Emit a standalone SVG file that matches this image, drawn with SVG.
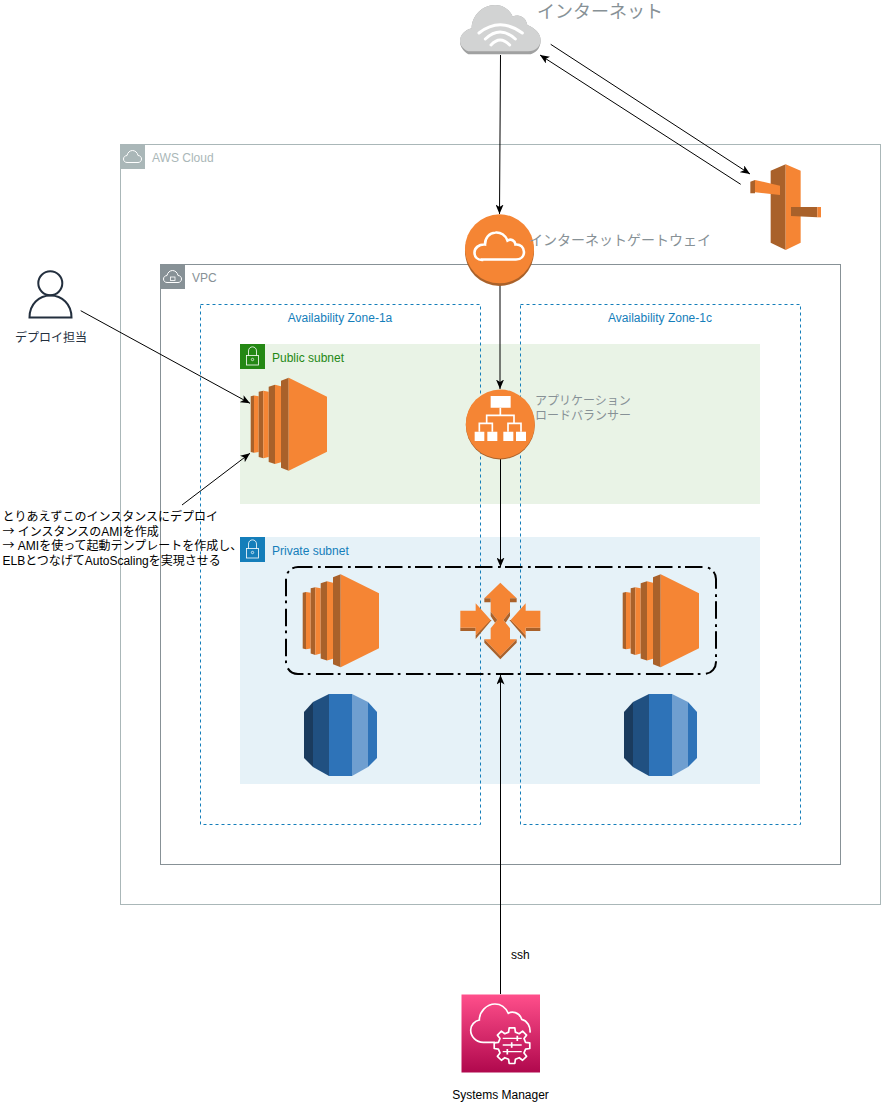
<svg xmlns="http://www.w3.org/2000/svg" xmlns:xlink="http://www.w3.org/1999/xlink" width="881" height="1105" viewBox="0 0 881 1105">
<style>
text{font-family:"Liberation Sans","Noto Sans CJK JP",sans-serif;font-size:12px}
.box{fill:none}
.az{fill:none;stroke:#147EBA;stroke-width:1;stroke-dasharray:3 3}
.conn{fill:none;stroke:#000;stroke-width:1;marker-end:url(#arrow)}
.lt{fill:#F58534}.dk{fill:#A9612A}
.wl{fill:none;stroke:#fff}
.cjk{font-family:"Noto Sans CJK JP",sans-serif}
</style>
<defs>
<marker id="arrow" markerUnits="userSpaceOnUse" viewBox="0 0 10 8" refX="9.5" refY="4" markerWidth="10" markerHeight="8" orient="auto"><path d="M0 0L9.5 4L0 8L2.4 4Z" fill="#000"/></marker>
<linearGradient id="ssmg" x1="0" y1="1" x2="0" y2="0"><stop offset="0" stop-color="#B0084D"/><stop offset="1" stop-color="#FF4F8B"/></linearGradient>
<g id="ec2">
<path class="dk" d="M.7 18.500L4 17.700V75L.7 74.300Z"/><path class="lt" d="M4 17.700L8.700 18.500V74.300L4 75Z"/>
<path class="dk" d="M8.700 14L13.300 13V80.600L8.700 79.300Z"/><path class="lt" d="M13.300 13L18.700 14V79.300L13.300 80.600Z"/>
<path class="dk" d="M18.700 9L25 7V86.300L18.700 84.300Z"/><path class="lt" d="M25 7L31 8.500V84.500L25 86.300Z"/>
<path class="dk" d="M31 3L38.700 0V93L31 90Z"/><path class="lt" d="M38.700 0L77 19V74L38.700 93Z"/>
</g>
<g id="rds">
<path fill="#1A3B5E" d="M0 18L9 8V73L0 64Z"/>
<path fill="#205081" d="M9 8L25 0V82L9 73Z"/>
<path fill="#2E73B8" d="M25 0H48V82H25Z"/>
<path fill="#6F9FD0" d="M48 0L64 8V73L48 82Z"/>
<path fill="#2E73B8" d="M64 8L73 18V64L64 73Z"/>
</g>
</defs>

<rect width="881" height="1105" fill="#fff"/>

<g id="aws-cloud">
<rect class="box" x="120.500" y="144.500" width="760" height="760" stroke="#AAB7B8"/>
<rect x="120" y="144" width="25" height="25" fill="#AAB7B8"/>
<path class="wl" stroke-width="1" d="M127 162.500h11c2 0 3.500-1.500 3.500-3.500s-1.500-3.500-3.500-3.500c-.5-3-3-5-5.500-5s-5 2-5.500 5c-2 .2-3.500 1.500-3.500 3.500s1.500 3.500 3.500 3.500z"/>
<text x="152" y="162" fill="#AAB7B8">AWS Cloud</text>
</g>
<g id="vpc">
<rect class="box" x="160.500" y="264.500" width="680" height="600" stroke="#879196"/>
<rect x="160" y="264" width="25" height="25" fill="#879196"/>
<path class="wl" stroke-width="1" d="M167 282.500h11c2 0 3.500-1.500 3.500-3.500s-1.500-3.500-3.500-3.500c-.5-3-3-5-5.500-5s-5 2-5.500 5c-2 .2-3.500 1.500-3.500 3.500s1.500 3.500 3.500 3.500z"/>
<rect x="170.500" y="277" width="4.500" height="3.500" fill="none" stroke="#fff" stroke-width=".8"/>
<text x="192" y="282" fill="#879196">VPC</text>
</g>
<g id="public-subnet">
<rect x="240" y="344" width="520" height="160" fill="#E9F3E6"/>
<rect x="240" y="344" width="25" height="25" fill="#248814"/>
<rect class="wl" x="246.500" y="355.500" width="12" height="9.500" stroke-width=".8"/>
<path class="wl" stroke-width=".8" d="M248.500 355.500v-4.500c0-5.500 8-5.500 8 0v4.500"/>
<circle class="wl" cx="252.500" cy="359.500" r="1.200" stroke-width=".7"/>
<text x="272" y="362" fill="#248814">Public subnet</text>
</g>
<g id="private-subnet">
<rect x="240" y="537" width="520" height="247" fill="#E6F2F8"/>
<rect x="240" y="537" width="25" height="25" fill="#147EBA"/>
<rect class="wl" x="246.500" y="548.500" width="12" height="9.500" stroke-width=".8"/>
<path class="wl" stroke-width=".8" d="M248.500 548.500v-4.500c0-5.500 8-5.500 8 0v4.500"/>
<circle class="wl" cx="252.500" cy="552.500" r="1.200" stroke-width=".7"/>
<text x="272" y="555" fill="#147EBA">Private subnet</text>
</g>
<g id="az-1a">
<rect class="az" x="200.500" y="304.500" width="280" height="520"/>
<text x="340" y="322" fill="#147EBA" text-anchor="middle">Availability Zone-1a</text>
</g>
<g id="az-1c">
<rect class="az" x="520.500" y="304.500" width="280" height="520"/>
<text x="660" y="322" fill="#147EBA" text-anchor="middle">Availability Zone-1c</text>
</g>
<g id="autoscaling-group">
<rect x="286" y="567" width="430" height="107" rx="12" ry="12" fill="none" stroke="#000" stroke-width="2" stroke-dasharray="17.500 5.500 2.700 4.300" stroke-dashoffset="-27"/>
</g>

<g id="connectors">
<path class="conn" d="M500.500 55L499.500 214"/>
<path class="conn" d="M550.700 44.300L750 174"/>
<path class="conn" d="M740.700 184.300L540 55"/>
<path class="conn" d="M500 285L500 389"/>
<path class="conn" d="M500.500 459L500.500 567"/>
<path class="conn" d="M500.500 994L500.500 675"/>
<path class="conn" d="M80.700 310.700L250 403.300"/>
<path class="conn" d="M182 505L250 453.300"/>
</g>

<g id="internet">
<g transform="translate(440 0) scale(.33333)">
<path fill="#A0A1A1" d="M85 163C68 152 60 138 60 125C60 105 75 90 95 85C95 50 125 15 165 15C190 15 210 30 218 50C235 40 258 50 262 75C285 85 302 100 302 122C302 145 285 163 265 163Z"/>
<path fill="#D2D3D3" d="M85 154C68 146 60 136 60 122C60 105 75 90 95 85C95 50 125 15 165 15C190 15 210 30 218 50C235 40 258 50 262 75C285 85 302 100 302 120C302 140 285 154 265 154Z"/>
<path class="wl" stroke-width="9" stroke-linecap="round" d="M117 99Q180 50 247 99M136 117Q180 75 226 117M153 135Q180 105 209 135"/>
</g>
<text x="537" y="18" fill="#879196" style="font-size:18px">インターネット</text>
</g>

<g id="nat-instance" transform="translate(735 155) scale(.33333)">
<path class="dk" d="M152 28L107 47V263L152 285Z"/>
<path class="lt" d="M152 28L197 47V263L152 285Z"/>
<path class="dk" d="M46 80L60 75V115L46 115Z"/>
<path class="lt" d="M60 75L135 92V120L60 112Z"/>
<path class="dk" d="M168 156H247V187L168 183Z"/>
<path class="lt" d="M247 156H258V187H247Z"/>
</g>

<g id="internet-gateway">
<circle class="dk" cx="499.500" cy="251.500" r="34.500"/>
<circle class="lt" cx="499.500" cy="248.800" r="34.500"/>
<path class="wl" stroke-width="2.600" d="M482 259.500h34c5.500 0 8-3.800 8-7.500c0-4.500-3.500-8-8.500-7.500c-.5-4-4.500-6-8-4c-2-5.500-7-8.500-12-8c-6.500.5-10.500 5.500-10.500 12c-6-.5-10.500 3.500-10.500 8c0 4.500 3 7.500 7.500 7.500z"/>
<text x="529" y="245" fill="#879196" style="font-size:14px">インターネットゲートウェイ</text>
</g>

<g id="load-balancer">
<circle class="dk" cx="500.300" cy="425" r="34.500"/>
<circle class="lt" cx="500.300" cy="424" r="34.500"/>
<g transform="translate(450 380) scale(.33333)">
<path fill="#fff" d="M122 48H182V83H122ZM74 155H103V183H74ZM112 155H142V183H112ZM160 155H190V183H160ZM198 155H228V183H198Z"/>
<path class="wl" stroke-width="5" d="M151 83V106M110 128V106H192V128M88 155V130H127V155M174 155V130H213V155"/>
</g>
<text fill="#879196"><tspan x="535" y="405">アプリケーション</tspan><tspan x="535" y="420">ロードバランサー</tspan></text>
</g>

<g id="ec2-public"><use xlink:href="#ec2" href="#ec2" x="250" y="377.700"/></g>
<g id="ec2-private-1a"><use xlink:href="#ec2" href="#ec2" x="302" y="574.300"/></g>
<g id="ec2-private-1c"><use xlink:href="#ec2" href="#ec2" x="622" y="574.300"/></g>

<g id="auto-scaling" transform="translate(440 560) scale(.33333)">
<path class="lt" d="M181 68L230 115H210V155L190 180L210 205V238H230L181 288L133 238H152V205L172 180L152 155V115H133Z"/>
<path class="dk" d="M133 115H152V127H133ZM210 115H230V127H210ZM152 155L172 180L165 188L152 168ZM210 155L190 180L197 188L210 168ZM133 238L181 288L230 238V248L181 298L133 248Z"/>
<path class="dk" d="M61 203H107V213H61ZM107 226L150 180L155 180L107 237ZM257 203H301V213H257ZM257 226L213 180L208 180L257 237Z"/>
<path class="lt" d="M61 152H107V130L152 180L107 226V203H61Z"/>
<path class="lt" d="M301 152H257V130L212 180L257 226V203H301Z"/>
</g>

<g id="rds-1a"><use xlink:href="#rds" href="#rds" x="304" y="694"/></g>
<g id="rds-1c"><use xlink:href="#rds" href="#rds" x="624" y="694"/></g>

<g id="deploy-user">
<circle cx="50.300" cy="283.300" r="12" fill="none" stroke="#232F3E" stroke-width="2"/>
<path fill="none" stroke="#232F3E" stroke-width="2" d="M29.500 317.500H71.500C71.500 304 62 295.500 50.500 295.500S29.500 304 29.500 317.500Z"/>
<text x="15" y="342" fill="#232F3E">デプロイ担当</text>
</g>

<g id="note">
<text fill="#000"><tspan x="2.500" y="521">とりあえずこのインスタンスにデプロイ</tspan><tspan x="2.500" y="535.500" class="cjk">→</tspan><tspan> インスタンスのAMIを作成</tspan><tspan x="2.500" y="550" class="cjk">→</tspan><tspan> AMIを使って起動テンプレートを作成し、</tspan><tspan x="2.500" y="564.500">ELBとつなげてAutoScalingを実現させる</tspan></text>
</g>

<g id="ssh-label"><text x="511" y="959" fill="#000">ssh</text></g>

<g id="systems-manager">
<rect x="461.500" y="994.500" width="78.500" height="78" fill="url(#ssmg)"/>
<g transform="translate(440 980) scale(.33333)">
<path class="wl" stroke-width="5" d="M165 187H130C108 187 92 170 92 150C92 135 105 122 118 120C118 95 140 72 165 72C185 72 198 85 205 100C215 93 238 95 245 118C262 122 272 140 270 158"/>
</g>
<g transform="translate(512 1045.700)">
<path class="wl" stroke-width="1.700" stroke-linejoin="round" d="M13.580-3.390L17.780-2.820V2.820L13.580 3.390L12 7.200L14.570 10.580L10.580 14.570L7.200 12L3.390 13.580L2.820 17.780H-2.820L-3.390 13.580L-7.200 12L-10.580 14.570L-14.570 10.580L-12 7.200L-13.580 3.390L-17.780 2.820V-2.820L-13.580-3.390L-12-7.200L-14.570-10.580L-10.580-14.570L-7.200-12L-3.390-13.580L-2.820-17.780H2.820L3.390-13.580L7.200-12L10.580-14.570L14.570-10.580L12-7.200Z"/>
<path class="wl" stroke-width="1.300" d="M-9.300-7.300H9.700M-9.300-.7H9.700M-9.300 6H9.700"/>
<path class="wl" stroke-width="1.700" d="M5.300-10V-4.600M-.3-3.400V2M-4.700 3.300V8.700"/>
</g>
<text x="500.500" y="1099" fill="#000" text-anchor="middle">Systems Manager</text>
</g>
</svg>
